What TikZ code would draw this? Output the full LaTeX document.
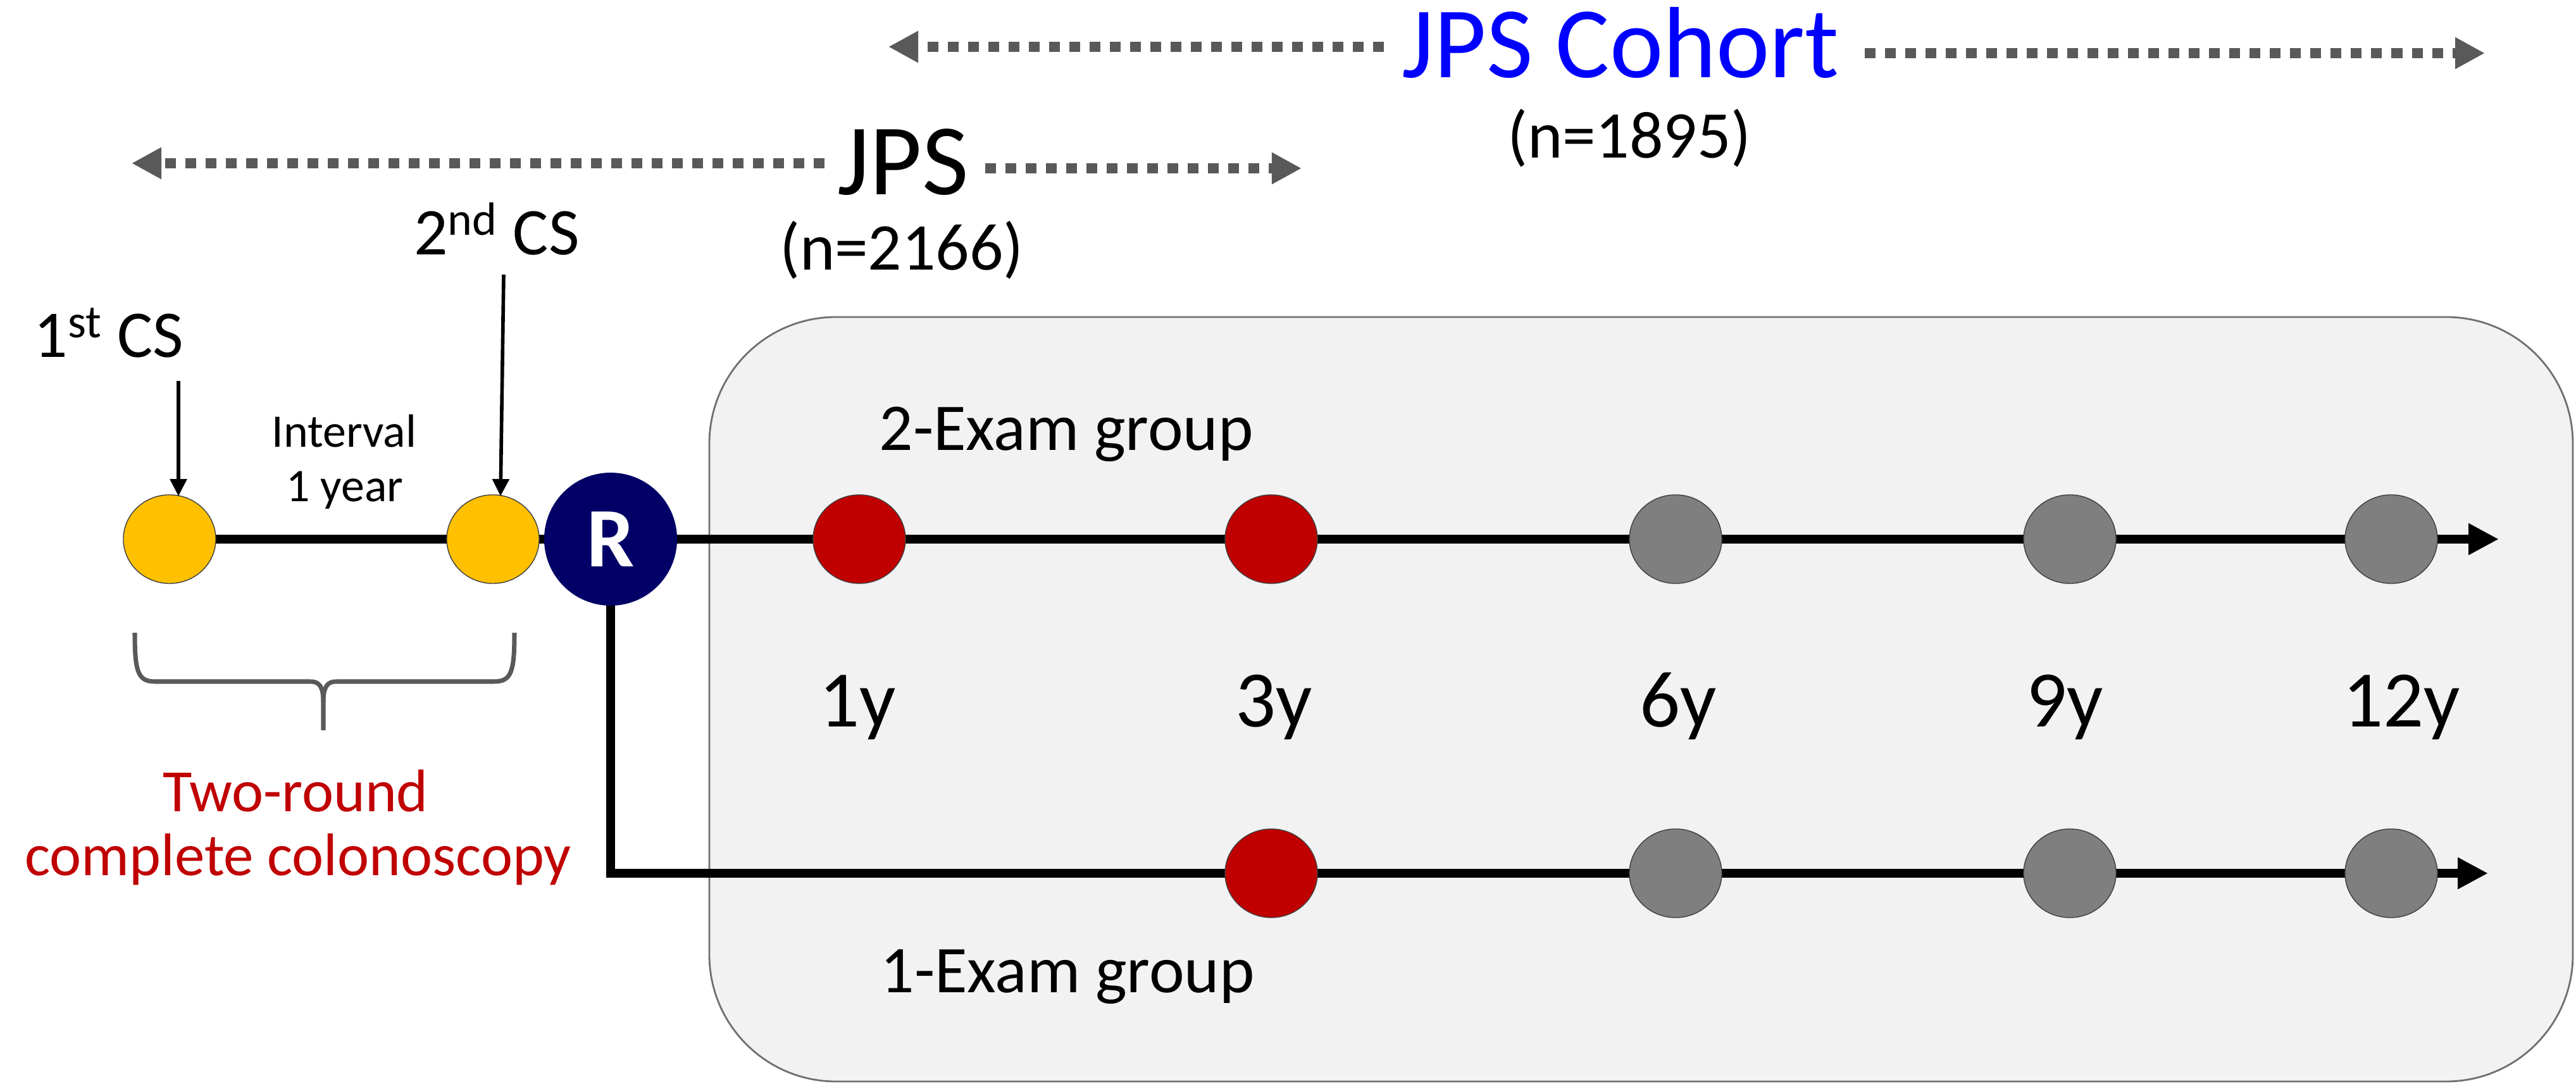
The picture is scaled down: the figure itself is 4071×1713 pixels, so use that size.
\documentclass[tikz,border=0pt]{standalone}
\usepackage{fontspec}
\setmainfont{Carlito}
\usetikzlibrary{arrows.meta,shapes.geometric,backgrounds}
\definecolor{cyellow}{HTML}{FFC000}
\definecolor{cred}{HTML}{C00000}
\definecolor{cgray}{HTML}{7F7F7F}
\definecolor{cbox}{HTML}{F2F2F2}
\definecolor{cboxline}{HTML}{707070}
\definecolor{cdash}{HTML}{595959}
\definecolor{cnavy}{RGB}{0,0,102}
\definecolor{cblue}{HTML}{0000FF}
\begin{document}
\begin{tikzpicture}[x=0.01cm,y=-0.01cm,
  dot/.style={ellipse, minimum width=1.46cm, minimum height=1.40cm, inner sep=0pt, draw=black!75, line width=0.4pt},
  ydot/.style={dot, fill=cyellow},
  rdot/.style={dot, fill=cred},
  gdot/.style={dot, fill=cgray},
  tl/.style={line width=4.2pt, black, line join=miter},
  tlarrow/.style={line width=4.2pt, black, -{Triangle[length=0.48cm,width=0.47cm]}},
  csarrow/.style={line width=1.6pt, black, -{Triangle[length=0.27cm,width=0.26cm]}},
  dasharr/.style={cdash, line width=0.16cm, dash pattern=on 0.17cm off 0.15cm, -{Triangle[length=0.47cm,width=0.47cm]}},
  lbl/.style={anchor=base, inner sep=0pt},
  ftitle/.style={font=\fontsize{45.5}{50}\selectfont},
  fmid/.style={font=\fontsize{30}{36}\selectfont},
  fyear/.style={font=\fontsize{36}{42}\selectfont},
  fint/.style={font=\fontsize{21}{25}\selectfont},
  fred/.style={font=\fontsize{27}{32}\selectfont, text=cred},
  bracestyle/.style={cdash, line width=2pt},
  boxstyle/.style={fill=cbox, draw=cboxline, line width=0.8pt, rounded corners=2cm}
]
\useasboundingbox (0,0) rectangle (4071,1713);

% timeline nodes
\node[ydot] (y1) at (268,852) {};
\node[ydot] (y2) at (779,852) {};
\node[circle, fill=cnavy, minimum size=2.1cm, inner sep=0pt, text=white,
      font=\fontsize{38}{40}\selectfont\bfseries] (R) at (965,852) {R};
\node[rdot] (a1) at (1358,852) {};
\node[rdot] (a3) at (2009,852) {};
\node[gdot] (a6) at (2648,852) {};
\node[gdot] (a9) at (3271,852) {};
\node[gdot] (a12) at (3779,852) {};
\coordinate (end1) at (3949,852);
\node[rdot] (b3) at (2009,1380) {};
\node[gdot] (b6) at (2648,1380) {};
\node[gdot] (b9) at (3271,1380) {};
\node[gdot] (b12) at (3779,1380) {};
\coordinate (end2) at (3932,1380);

% labels
\node[lbl, ftitle, text=cblue] (cohort) at (2561,123) {JPS Cohort};
\node[lbl, fmid] (n1895) at (2575,250) {(n=1895)};
\node[lbl, ftitle] (jps) at (1427,308) {JPS};
\node[lbl, fmid] (n2166) at (1425,427) {(n=2166)};
\node[lbl, fmid] (cs1) at (172,565) {1\textsuperscript{st} CS};
\node[lbl, fmid] (cs2) at (785,403) {2\textsuperscript{nd} CS};
\node[lbl, fint] (int1) at (544,707) {Interval};
\node[lbl, fint] (int2) at (545,793) {1 year};
\node[lbl, fred] (two1) at (467,1283) {Two-round};
\node[lbl, fred] (two2) at (471,1384) {complete colonoscopy};
\node[lbl, fmid] (g2) at (1685,712) {2-Exam group};
\node[lbl, fmid] (g1) at (1687,1568) {1-Exam group};
\node[lbl, fyear] (l1) at (1355,1149) {1y};
\node[lbl, fyear] (l3) at (2013,1149) {3y};
\node[lbl, fyear] (l6) at (2652,1149) {6y};
\node[lbl, fyear] (l9) at (3263,1149) {9y};
\node[lbl, fyear] (l12) at (3795,1149) {12y};

% dashed range arrows
\coordinate (jpsLs) at (1303,258);
\coordinate (jpsLe) at (208,258);
\coordinate (jpsRs) at (1557,266);
\coordinate (jpsRe) at (2057,266);
\coordinate (cohLs) at (2187,74);
\coordinate (cohLe) at (1404,74);
\coordinate (cohRs) at (2947,84);
\coordinate (cohRe) at (3927,84);
\draw[dasharr] (jpsLs) -- (jpsLe);
\draw[dasharr] (jpsRs) -- (jpsRe);
\draw[dasharr] (cohLs) -- (cohLe);
\draw[dasharr] (cohRs) -- (cohRe);

% CS arrows
\coordinate (c1s) at (282,602);
\coordinate (c1e) at (282,784);
\coordinate (c2s) at (796,434);
\coordinate (c2e) at (791,784);
\draw[csarrow] (c1s) -- (c1e);
\draw[csarrow] (c2s) -- (c2e);

% brace
\draw[bracestyle] (213,1000) .. controls (213,1062) and (218,1077) .. (245,1077) -- (490,1077)
  .. controls (505,1077) and (511,1085) .. (511,1110) -- (511,1154);
\draw[bracestyle] (813,1000) .. controls (813,1062) and (808,1077) .. (781,1077) -- (532,1077)
  .. controls (517,1077) and (511,1085) .. (511,1110);

\begin{scope}[on background layer]
  \draw[boxstyle] (1121,501) rectangle (4066,1709);
  \draw[tl] (y1.center) -- (y2.center) -- (R.center) -- (a1.center) -- (a3.center) -- (a6.center) -- (a9.center) -- (a12.center);
  \draw[tlarrow] (a12.center) -- (end1);
  \draw[tl] (R.center) |- (b3.center) -- (b6.center) -- (b9.center) -- (b12.center);
  \draw[tlarrow] (b12.center) -- (end2);
\end{scope}
\end{tikzpicture}
\end{document}
